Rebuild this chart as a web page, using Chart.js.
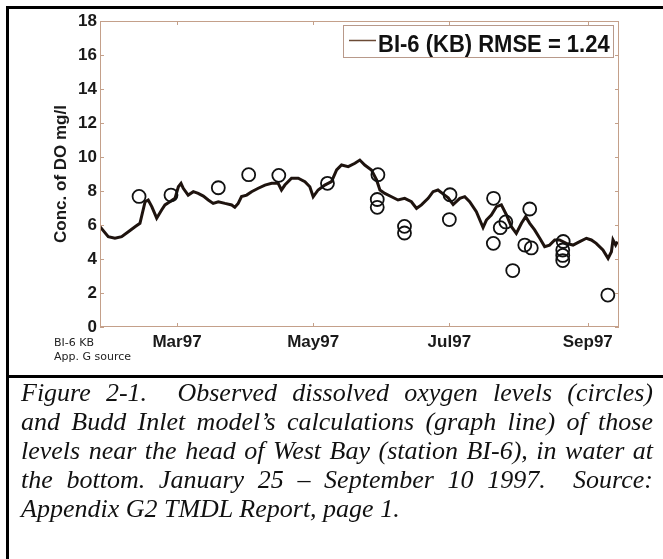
<!DOCTYPE html>
<html>
<head>
<meta charset="utf-8">
<script src="https://cdn.jsdelivr.net/npm/chart.js@4"></script>
<style>
  html,body{margin:0;padding:0;background:#fff;}
  #page{position:relative;width:663px;height:559px;overflow:hidden;background:#fff;}
  #chartWrap{position:absolute;left:0;top:0;width:663px;height:376px;}
  .rule{position:absolute;background:#000;}
  #note{position:absolute;left:54px;top:336px;font:11px "DejaVu Sans",Verdana,sans-serif;line-height:14px;color:#222;}
  #caption{position:absolute;left:21px;top:378px;width:632px;font:italic 26px "Liberation Serif","Times New Roman",serif;line-height:29px;color:#111;}
  #caption div{text-align:justify;text-align-last:justify;white-space:nowrap;}
  #caption div.last{text-align:left;text-align-last:left;}
</style>
</head>
<body>
<div id="page">
  <div id="chartWrap"><canvas id="c" width="663" height="376"></canvas></div>
  <div class="rule" style="left:6px;top:6px;width:657px;height:3px;"></div>
  <div class="rule" style="left:6px;top:6px;width:3px;height:553px;"></div>
  <div class="rule" style="left:6px;top:375px;width:657px;height:3px;"></div>
  <div id="note">BI-6 KB<br>App. G source</div>
  <div id="caption">
    <div>Figure 2-1. &nbsp;Observed dissolved oxygen levels (circles)</div>
    <div>and Budd Inlet model’s calculations (graph line) of those</div>
    <div>levels near the head of West Bay (station BI-6), in water at</div>
    <div>the bottom. January 25 – September 10 1997. &nbsp;Source:</div>
    <div class="last">Appendix G2 TMDL Report, page 1.</div>
  </div>
</div>
<script>
// ---- data (x = day of year 1997) ----
const modelDays = [25.5,29.2,32.2,35.2,38.2,41.2,43.4,45.7,47.1,48.7,50.9,53.1,54.6,56.8,59.1,60.6,61.8,62.8,65.0,67.3,69.5,71.8,74.0,76.2,78.5,81.5,84.5,85.9,87.4,88.9,91.2,93.4,96.4,99.4,102.4,105.3,106.8,108.3,111.3,114.3,117.3,119.5,121.0,123.2,126.2,129.2,131.5,133.7,136.7,139.7,141.9,144.1,147.1,149.4,150.9,153.1,156.1,159.0,162.0,165.0,167.3,169.5,172.5,174.7,176.9,179.9,181.5,183.7,186.7,188.9,191.1,194.1,197.1,198.6,200.8,203.1,205.3,207.6,209.8,212.0,214.3,216.2,218.0,220.2,222.5,224.7,226.9,229.2,231.4,234.4,237.4,240.4,243.4,245.6,247.8,250.8,253.1,254.6,255.3,256.5,257.3];
const modelDO = [5.9,5.31,5.22,5.31,5.6,5.9,6.1,7.37,7.47,7.08,6.4,6.88,7.18,7.37,7.57,8.25,8.45,8.16,7.76,7.96,7.86,7.7,7.47,7.27,7.37,7.27,7.18,7.04,7.27,7.67,7.76,7.96,8.16,8.35,8.45,8.45,8.06,8.35,8.75,8.75,8.55,8.25,7.66,8.06,8.35,8.55,9.24,9.53,9.43,9.63,9.82,9.53,9.24,8.65,8.06,7.86,7.66,7.47,7.57,7.37,6.98,7.18,7.57,7.96,8.06,7.76,7.6,7.2,7.57,7.67,7.37,6.78,5.85,6.29,6.59,7.08,7.18,6.59,5.9,5.51,6.1,6.49,6.1,5.71,5.22,4.73,4.82,5.12,5.12,4.92,4.82,5.02,5.22,5.12,4.92,4.53,4.04,4.43,5.12,4.82,5.02];
const obsDays = [43.0,57.3,78.5,92.1,105.6,127.4,150.0,149.7,149.7,161.9,161.9,182.3,182.0,201.8,204.8,207.3,201.7,218.0,215.8,218.7,210.4,233.0,232.8,232.8,232.8,253.0];
const obsDO = [7.68,7.76,8.19,8.96,8.92,8.45,8.96,7.5,7.04,5.92,5.53,7.78,6.32,7.57,5.84,6.18,4.92,6.94,4.82,4.65,3.32,5.03,4.53,4.21,3.91,1.88];
const monthTickDays = [60,121,182,244];
const monthTickLabels = ['Mar97','May97','Jul97','Sep97'];
const yTickValues = [0,2,4,6,8,10,12,14,16,18];
const legendLabel = 'BI-6 (KB) RMSE = 1.24';
const yTitle = 'Conc. of DO mg/l';

const AXIS_COLOR = '#c4a08a';
const LINE_COLOR = '#1e130e';
const FONT = '"Liberation Sans", Arial, sans-serif';

const framePlugin = {
  id: 'frame',
  afterDraw(chart) {
    const {ctx, chartArea: a, scales: {x, y}} = chart;
    ctx.save();
    ctx.strokeStyle = AXIS_COLOR;
    ctx.lineWidth = 1;
    ctx.strokeRect(a.left + 0.5, a.top + 0.5, a.right - a.left - 1, a.bottom - a.top - 1);
    ctx.beginPath();
    x.ticks.forEach(t => {
      const px = Math.round(x.getPixelForValue(t.value)) + 0.5;
      ctx.moveTo(px, a.bottom); ctx.lineTo(px, a.bottom - 4);
      ctx.moveTo(px, a.top); ctx.lineTo(px, a.top + 4);
    });
    y.ticks.forEach(t => {
      const py = Math.round(y.getPixelForValue(t.value)) + 0.5;
      ctx.moveTo(a.left, py); ctx.lineTo(a.left + 4, py);
      ctx.moveTo(a.right, py); ctx.lineTo(a.right - 4, py);
    });
    ctx.stroke();
    // legend box
    const bx = a.right - 276, by = a.top + 4, bw = 270, bh = 32;
    ctx.fillStyle = '#fff';
    ctx.fillRect(bx, by, bw, bh);
    ctx.strokeStyle = '#b8998a';
    ctx.strokeRect(bx + 0.5, by + 0.5, bw, bh);
    ctx.strokeStyle = '#6b4a35';
    ctx.lineWidth = 1.5;
    ctx.beginPath();
    ctx.moveTo(a.right - 270, a.top + 19.5);
    ctx.lineTo(a.right - 243, a.top + 19.5);
    ctx.stroke();
    ctx.fillStyle = '#111';
    ctx.font = 'bold 22px ' + FONT;
    ctx.textBaseline = 'alphabetic';
    ctx.textAlign = 'left';
    ctx.translate(a.right - 241, a.top + 31);
    ctx.scale(1, 1.1);
    ctx.fillText(chart.data.datasets[1].label, 0, 0);
    ctx.restore();
  }
};

new Chart(document.getElementById('c'), {
  type: 'scatter',
  data: {
    datasets: [
      {
        label: 'Observed',
        data: obsDays.map((d, i) => ({x: d, y: obsDO[i]})),
        showLine: false,
        pointStyle: 'circle',
        pointRadius: 6.5,
        pointBorderWidth: 1.8,
        pointBorderColor: '#111',
        pointBackgroundColor: 'rgba(0,0,0,0)'
      },
      {
        label: legendLabel,
        data: modelDays.map((d, i) => ({x: d, y: modelDO[i]})),
        showLine: true,
        borderColor: LINE_COLOR,
        borderWidth: 3,
        pointRadius: 0,
        tension: 0
      }
    ]
  },
  options: {
    responsive: false,
    animation: false,
    devicePixelRatio: 1,
    layout: {padding: {left: 0, top: 21, right: 44, bottom: 0}},
    plugins: {legend: {display: false}, tooltip: {enabled: false}},
    scales: {
      x: {
        type: 'linear',
        min: 25.5,
        max: 258,
        afterBuildTicks: s => { s.ticks = monthTickDays.map(v => ({value: v})); },
        afterFit: s => { s.height = 49; },
        grid: {display: false, drawTicks: false},
        border: {display: false},
        ticks: {
          autoSkip: false, maxRotation: 0, padding: 5,
          color: '#1a1a1a',
          font: {family: FONT, size: 17, weight: 'bold'},
          callback: v => monthTickLabels[monthTickDays.indexOf(v)]
        }
      },
      y: {
        min: 0,
        max: 18,
        afterBuildTicks: s => { s.ticks = yTickValues.map(v => ({value: v})); },
        afterFit: s => { s.width = 100; },
        grid: {display: false, drawTicks: false},
        border: {display: false},
        ticks: {padding: 3, color: '#1a1a1a', font: {family: FONT, size: 17, weight: 'bold'}},
        title: {display: true, text: yTitle, color: '#1a1a1a', padding: {top: 51, bottom: 0}, font: {family: FONT, size: 17, weight: 'bold'}}
      }
    }
  },
  plugins: [framePlugin]
});
</script>
</body>
</html>
